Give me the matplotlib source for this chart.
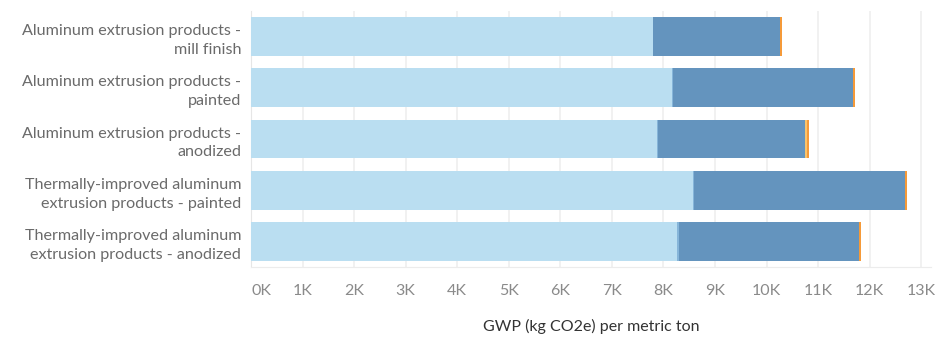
import matplotlib.pyplot as plt
import numpy as np

# categories, top to bottom
categories = [
    "Aluminum extrusion products -\nmill finish",
    "Aluminum extrusion products -\npainted",
    "Aluminum extrusion products -\nanodized",
    "Thermally-improved aluminum\nextrusion products - painted",
    "Thermally-improved aluminum\nextrusion products - anodized",
]

# stacked segments, kg CO2e per metric ton
seg_light = [7800, 8170, 7880, 8570, 8260]
seg_mid = [0, 20, 20, 20, 40]
seg_dark = [2460, 3490, 2850, 4090, 3490]
seg_lorange = [0, 0, 40, 0, 0]
seg_orange = [40, 40, 40, 40, 40]

segments = [seg_light, seg_mid, seg_dark, seg_lorange, seg_orange]
colors = ["#badef1", "#86b5d9", "#6494be", "#f9c46c", "#f59a39"]

xticks = np.arange(0, 14000, 1000)
xticklabels = [f"{int(v/1000)}K" for v in xticks]

fig = plt.figure(figsize=(9.35, 3.37), dpi=100)
ax = fig.add_axes([251/935, 1-267/337, (931-251)/935, (267-11)/337])

y = np.arange(len(categories))
left = np.zeros(len(categories))
for vals, c in zip(segments, colors):
    ax.barh(y, vals, left=left, height=0.76, color=c, linewidth=0, zorder=3)
    left += np.array(vals)

ax.set_ylim(len(categories) - 0.5, -0.5)
ax.set_xlim(0, 13190)
ax.set_yticks(y)
ax.set_yticklabels(categories, fontsize=11.6, color="#6a6a6a", family="Lato", linespacing=1.45)
ax.set_xticks(xticks)
ax.set_xticklabels(xticklabels, fontsize=11.5, color="#8a8a8a", family="Lato")
ax.get_xticklabels()[0].set_horizontalalignment("left")

ax.tick_params(axis="both", length=0)
ax.tick_params(axis="y", pad=7)
ax.tick_params(axis="x", pad=12)
ax.grid(axis="x", color="#efefef", linewidth=1.2, zorder=0)

for s in ["top", "right"]:
    ax.spines[s].set_visible(False)
ax.spines["left"].set_color("#e6e6e6")
ax.spines["bottom"].set_color("#ececec")

ax.set_xlabel("GWP (kg CO2e) per metric ton", fontsize=11.5, color="#333333", family="Lato", labelpad=15)

fig.savefig("out.png", dpi=100)
